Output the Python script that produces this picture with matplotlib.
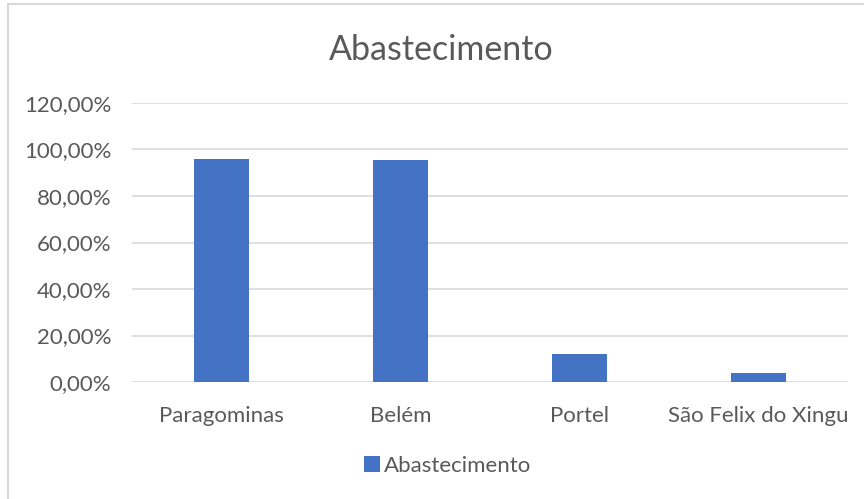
import matplotlib.pyplot as plt
from matplotlib.patches import Rectangle
from matplotlib.ticker import FuncFormatter

plt.rcParams['font.family'] = ['Lato', 'DejaVu Sans']

cidades = ['Paragominas', 'Belém', 'Portel', 'São Felix do Xingu']
abastecimento = [95.8, 95.5, 11.9, 3.9]
titulo = 'Abastecimento'

cinza = '#595959'
azul = '#4472C4'

fig = plt.figure(figsize=(8.64, 4.99), dpi=100)
ax = fig.add_axes([132 / 864, 1 - 382 / 499, 716 / 864, 279 / 499])

ax.bar(range(len(cidades)), abastecimento, width=0.31, color=azul, label=titulo, zorder=3)

ax.set_xlim(-0.5, len(cidades) - 0.5)
ax.set_ylim(0, 120)
ax.set_yticks(range(0, 121, 20))
ax.yaxis.set_major_formatter(FuncFormatter(lambda v, p: f'{v:.2f}%'.replace('.', ',')))
ax.set_xticks(range(len(cidades)))
ax.set_xticklabels(cidades)
ax.grid(axis='y', color='#d9d9d9', linewidth=1.2, zorder=0)
for s in ax.spines.values():
    s.set_visible(False)
ax.tick_params(length=0, labelsize=16, colors=cinza)
ax.tick_params(axis='y', pad=15)
ax.tick_params(axis='x', pad=17)

fig.text(441 / 864, 1 - 50 / 499, titulo, ha='center', va='center', fontsize=24.5, color=cinza)

fig.legend(loc='center', bbox_to_anchor=(448 / 864, 1 - 466 / 499), frameon=False,
           fontsize=16, labelcolor=cinza, handlelength=0.7, handleheight=0.7, handletextpad=0.2)

# borda do gráfico
fig.patches.append(Rectangle((8 / 864, -0.1), 1.0, 1 - 4 / 499 + 0.1, transform=fig.transFigure,
                             fill=False, edgecolor='#d0d0d0', linewidth=1.2))

fig.savefig('out.png', dpi=100)
